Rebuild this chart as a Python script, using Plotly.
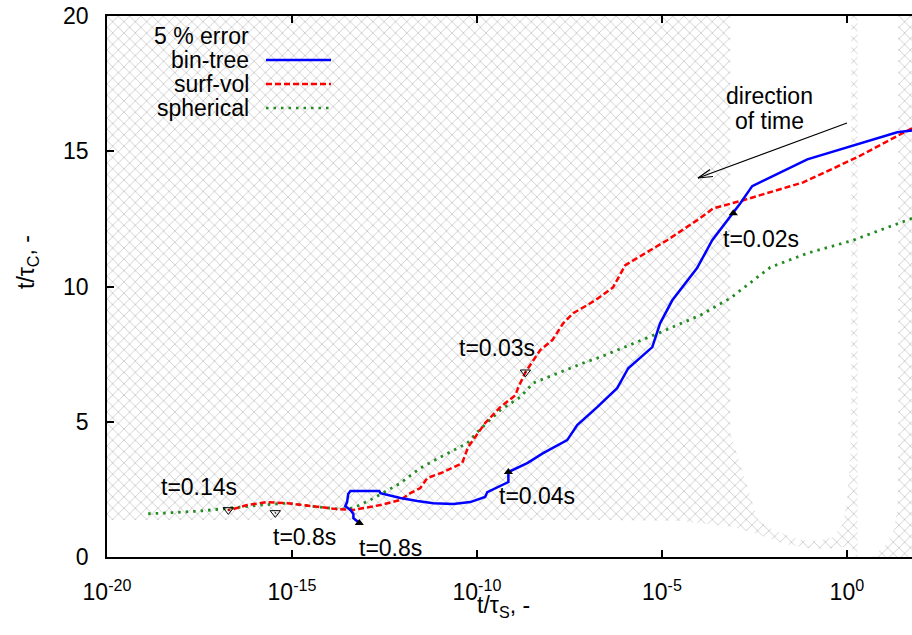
import numpy as np
import plotly.graph_objects as go

# ---- data: x stored as log10(t/tau_S), y is t/tau_C ----
bt_logx = [1.76, 1.36, -1.07, -2.56, -2.88, -3.64, -4.05, -4.72, -5.05, -5.26, -5.91, -6.21,
           -6.75, -7.29, -7.56, -8.21, -8.64, -9.15, -9.15, -9.72, -9.78, -10.18, -10.64,
           -11.18, -11.61, -12.07, -12.61, -12.64, -13.42, -13.48, -13.51, -13.56, -13.42,
           -13.34, -13.34, -13.18]
bt_y = [15.77, 15.70, 14.70, 13.71, 13.08, 11.71, 10.68, 9.49, 8.64, 7.76, 6.98, 6.24,
        5.54, 4.88, 4.32, 3.84, 3.47, 3.14, 2.77, 2.40, 2.22, 2.03, 1.96,
        1.99, 2.07, 2.18, 2.36, 2.44, 2.44, 2.33, 2.03, 1.88, 1.74,
        1.59, 1.44, 1.26]

sv_logx = [1.76, 0.28, -1.18, -2.80, -3.61, -4.05, -4.86, -5.99, -6.32, -6.80, -7.40, -7.67,
           -7.96, -8.29, -8.51, -8.69, -8.88, -8.96, -9.37, -9.78, -10.05, -10.24, -10.40,
           -10.91, -11.34, -11.53, -11.80, -12.07, -12.61, -13.34, -13.78, -14.32, -15.13,
           -15.67, -16.21, -16.59, -16.72]
sv_y = [15.85, 14.78, 13.85, 13.19, 12.89, 12.45, 11.71, 10.79, 9.97, 9.49, 9.01, 8.64,
        8.02, 7.65, 7.20, 6.83, 6.28, 5.98, 5.54, 4.95, 4.43, 4.06, 3.47,
        3.14, 2.92, 2.55, 2.36, 2.11, 1.92, 1.74, 1.77, 1.85, 1.99,
        2.03, 1.92, 1.77, 1.74]

sph_logx = [1.76, 0.17, -1.07, -2.07, -3.15, -3.96, -5.10, -5.86, -6.67, -7.13, -7.83, -8.48,
            -8.83, -9.37, -9.99, -10.26, -10.99, -11.53, -12.07, -12.53, -12.88, -13.34,
            -13.69, -14.32, -15.13, -15.86, -16.59, -17.48, -18.37, -19.02]
sph_y = [12.52, 11.71, 11.23, 10.71, 9.57, 8.94, 8.27, 7.83, 7.39, 7.17, 6.80, 6.43,
         5.91, 5.43, 4.62, 4.21, 3.69, 3.29, 2.73, 2.36, 2.11, 1.81,
         1.77, 1.85, 1.99, 1.92, 1.81, 1.70, 1.63, 1.59]

# time markers
bt_mark_logx = [-13.18, -9.15, -3.07]
bt_mark_y = [1.26, 3.14, 12.71]
open_mark_logx = [-16.72, -15.45, -8.69]
open_mark_y = [1.74, 1.63, 6.83]

# time labels: (text, log10 x, y)
time_labels = [
    ("t=0.14s", -17.51, 2.59),
    ("t=0.8s", -14.67, 0.74),
    ("t=0.8s", -12.34, 0.33),
    ("t=0.04s", -8.37, 2.25),
    ("t=0.03s", -9.45, 7.72),
    ("t=0.02s", -2.32, 11.75),
]

# ---- 5 % error map: whole domain hatched, accurate regions cut out ----
x_lo, x_hi = -20.0, 1.76
err_logx = [x_lo, x_hi, x_hi, x_lo, x_lo]
err_y = [0, 0, 20, 20, 0]

band_logx = [-20, -20, -6.66, -4.50, -3.07, -2.42, -1.72, -1.07, -0.53, -0.18, 0.10, 0.15, 0.15, -20]
band_y = [0, 1.37, 1.37, 1.33, 1.11, 0.85, 0.50, 0.33, 0.30, 0.35, 0.40, 0.30, 0, 0]

bowl_logx = [-3.15, -3.15, -2.69, -2.40, -2.00, -1.26, -0.80, -0.37, -0.12, 0.01, 0.10, 0.12, 0.12, -3.15]
bowl_y = [20, 4.58, 2.59, 1.37, 1.00, 0.63, 0.59, 0.74, 1.18, 2.10, 3.95, 6.0, 20, 20]

gap_logx = [0.29, 0.29, 0.69, 1.04, 1.25, 1.36, 1.39, 1.39, 0.29]
gap_y = [20, 0, 0, 0.44, 0.89, 1.74, 3.0, 20, 20]


def lin(v):
    return 10 ** np.asarray(v, dtype=float)


FONT = "Liberation Sans, Arial, sans-serif"
FS = 23
fig = go.Figure()

fig.add_trace(go.Scatter(
    x=lin(err_logx), y=err_y, mode="lines", fill="toself",
    line=dict(width=0), fillcolor="rgba(0,0,0,0)",
    fillpattern=dict(shape="x", fgcolor="#bdbdbd", bgcolor="white", fgopacity=1,
                     size=8, solidity=0.16),
    hoverinfo="skip", showlegend=False))
for lx, ly in [(band_logx, band_y), (bowl_logx, bowl_y), (gap_logx, gap_y)]:
    fig.add_trace(go.Scatter(
        x=lin(lx), y=ly, mode="lines", fill="toself", fillcolor="white",
        line=dict(width=0), hoverinfo="skip", showlegend=False))

fig.add_trace(go.Scatter(x=lin(sph_logx), y=sph_y, mode="lines", name="spherical",
                         line=dict(color="#228B22", width=2.8, dash="2.5px,5px")))
fig.add_trace(go.Scatter(x=lin(sv_logx), y=sv_y, mode="lines", name="surf-vol",
                         line=dict(color="#ff0000", width=2.5, dash="6px,3px")))
fig.add_trace(go.Scatter(x=lin(bt_logx), y=bt_y, mode="lines", name="bin-tree",
                         line=dict(color="#0000ff", width=2.5)))

fig.add_trace(go.Scatter(x=lin(bt_mark_logx), y=bt_mark_y, mode="markers", showlegend=False,
                         marker=dict(symbol="triangle-up", size=8, color="black")))
fig.add_trace(go.Scatter(x=lin(open_mark_logx), y=open_mark_y, mode="markers", showlegend=False,
                         marker=dict(symbol="triangle-down-open-dot", size=9, color="black",
                                     line=dict(width=1, color="black"))))

annotations = []
for txt, lx, ly in time_labels:
    annotations.append(dict(x=lx, y=ly, xref="x", yref="y", text=txt, showarrow=False,
                            xanchor="center", yanchor="middle",
                            font=dict(size=FS, color="black", family=FONT)))
annotations.append(dict(x=-2.10, y=17.03, xref="x", yref="y", text="direction", showarrow=False,
                        xanchor="center", yanchor="middle",
                        font=dict(size=FS, color="black", family=FONT)))
annotations.append(dict(x=-2.10, y=16.12, xref="x", yref="y", text="of time", showarrow=False,
                        xanchor="center", yanchor="middle",
                        font=dict(size=FS, color="black", family=FONT)))

# legend drawn by hand: text right-aligned, sample to its right
W, H = 805.0, 541.0


def px(xp):
    return (xp - 107) / W


def py(yp):
    return (557 - yp) / H


legend_rows = [("5 % error", 36, None, None),
               ("bin-tree", 60, "#0000ff", "solid"),
               ("surf-vol", 84, "#ff0000", "6px,3px"),
               ("spherical", 108, "#228B22", "2.5px,5px")]
shapes = []
for txt, yy, col, dash in legend_rows:
    annotations.append(dict(x=px(251), y=py(yy), xref="paper", yref="paper", text=txt,
                            showarrow=False, xanchor="right", yanchor="middle",
                            font=dict(size=FS, color="black", family=FONT)))
    if col:
        shapes.append(dict(type="line", xref="paper", yref="paper",
                           x0=px(266), x1=px(331), y0=py(yy), y1=py(yy),
                           line=dict(color=col, width=2.6, dash=dash)))

# arrow for the direction of time, with an open head
tail = (847, 123)
head = (698, 178)
shapes.append(dict(type="line", xref="paper", yref="paper", x0=px(tail[0]), y0=py(tail[1]),
                   x1=px(head[0]), y1=py(head[1]), line=dict(color="black", width=1.2)))
for wx, wy in [(713, 176.5), (710, 169.5)]:
    shapes.append(dict(type="line", xref="paper", yref="paper", x0=px(head[0]), y0=py(head[1]),
                       x1=px(wx), y1=py(wy), line=dict(color="black", width=1.2)))

# axis titles
annotations.append(dict(x=px(503), y=py(606), xref="paper", yref="paper",
                        text="t/τ<sub>S</sub>, -", showarrow=False,
                        xanchor="center", yanchor="middle",
                        font=dict(size=FS, color="black", family=FONT)))
annotations.append(dict(x=px(27), y=py(262), xref="paper", yref="paper",
                        text="t/τ<sub>C</sub>, -", showarrow=False, textangle=-90,
                        xanchor="center", yanchor="middle",
                        font=dict(size=FS, color="black", family=FONT)))

fig.update_layout(
    width=912, height=635,
    margin=dict(l=107, r=0, t=16, b=78),
    paper_bgcolor="white", plot_bgcolor="white",
    showlegend=False,
    font=dict(family=FONT, size=FS, color="black"),
    annotations=annotations, shapes=shapes,
    xaxis=dict(type="log", range=[x_lo, x_hi], showgrid=False, zeroline=False,
               showline=True, linecolor="black", linewidth=1.5, mirror="ticks",
               ticks="inside", ticklen=7, tickwidth=1.5, tickcolor="black",
               tickvals=[1e-20, 1e-15, 1e-10, 1e-5, 1e0],
               ticktext=["10<sup>-20</sup>", "10<sup>-15</sup>", "10<sup>-10</sup>",
                         "10<sup>-5</sup>", "10<sup>0</sup>"],
               tickfont=dict(size=FS, family=FONT, color="black"),
               ticklabelstandoff=14),
    yaxis=dict(range=[0, 20], showgrid=False, zeroline=False,
               showline=True, linecolor="black", linewidth=1.5,
               ticks="inside", ticklen=7, tickwidth=1.5, tickcolor="black",
               tickvals=[0, 5, 10, 15, 20],
               tickfont=dict(size=FS, family=FONT, color="black"),
               ticklabelstandoff=12),
)

fig.write_html("out.html")
